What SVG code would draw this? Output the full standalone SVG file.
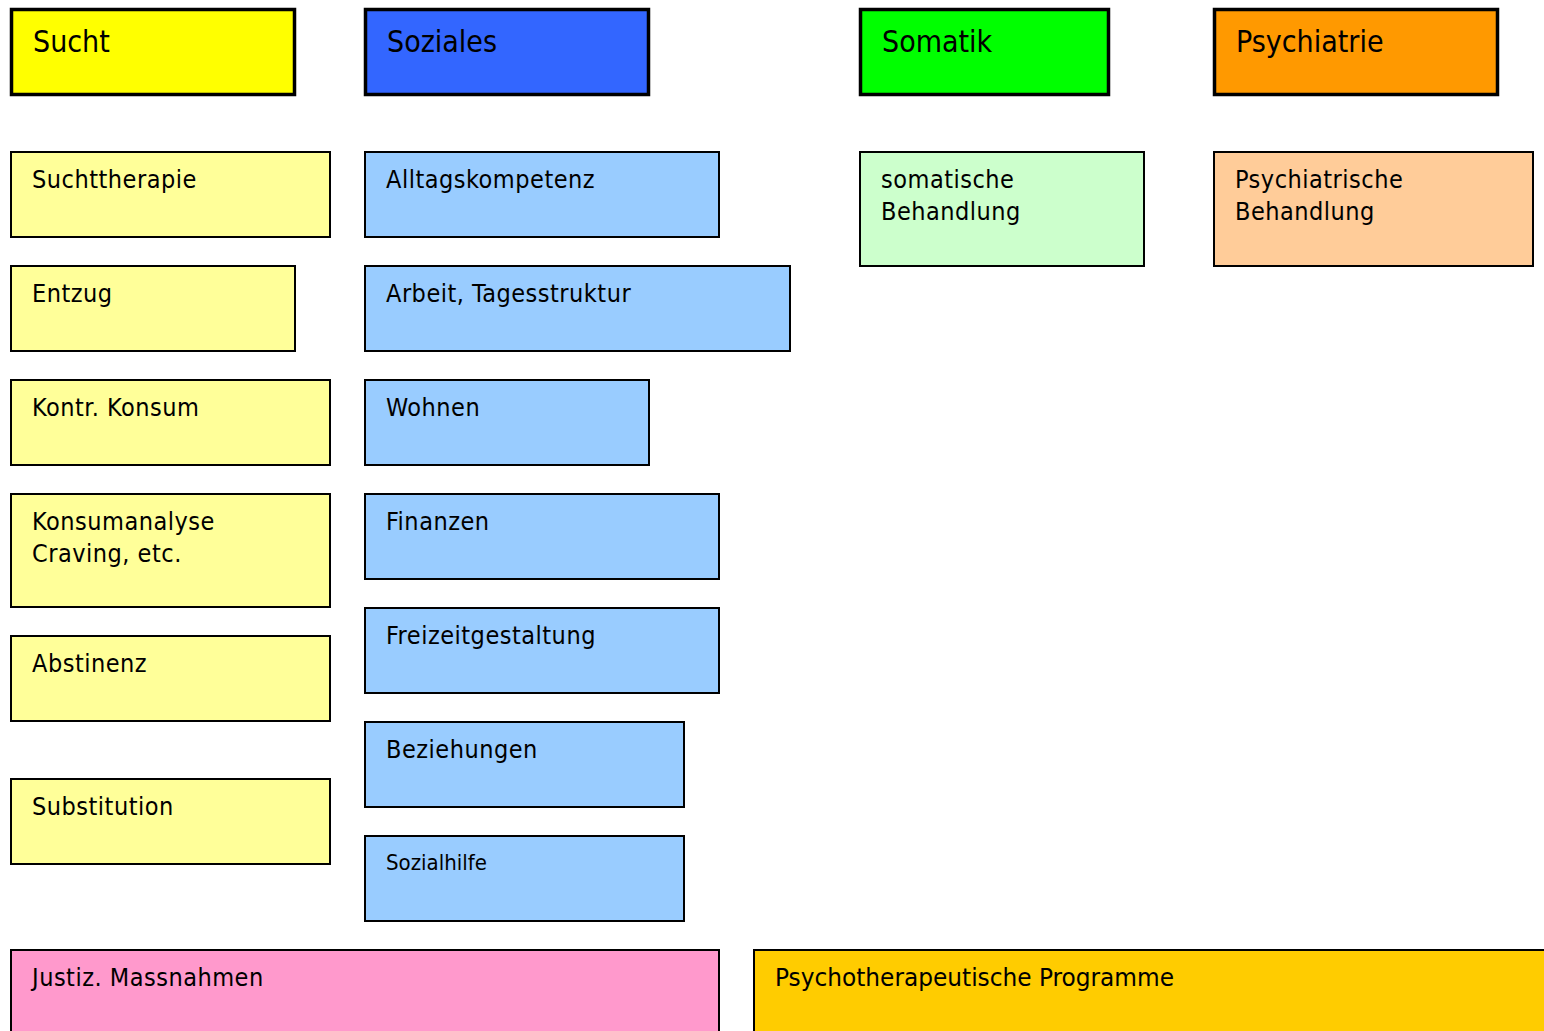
<svg xmlns="http://www.w3.org/2000/svg" width="1544" height="1031" viewBox="0 0 1544 1031">
<style>
text{font-family:"DejaVu Sans Condensed","DejaVu Sans",Tahoma,sans-serif;fill:#000}
.h rect{stroke:#000;stroke-width:3.5}
.h text{font-size:30px}
.b rect{stroke:#000;stroke-width:2}
.b text{font-size:25px;letter-spacing:0.5px}
.y rect{fill:#FFFF99}.bl rect{fill:#99CCFF}
</style>
<rect width="1544" height="1031" fill="#fff"/>
<g id="connectors"></g>
<g id="h-sucht" class="h"><rect x="11.5" y="9.5" width="283" height="85" fill="#FFFF00"/><text x="33" y="52">Sucht</text></g>
<g id="h-soziales" class="h"><rect x="365.5" y="9.5" width="283" height="85" fill="#3366FF"/><text x="387" y="52">Soziales</text></g>
<g id="h-somatik" class="h"><rect x="860.5" y="9.5" width="248" height="85" fill="#00FF00"/><text x="882" y="52">Somatik</text></g>
<g id="h-psychiatrie" class="h"><rect x="1214.5" y="9.5" width="283" height="85" fill="#FF9900"/><text x="1236" y="52">Psychiatrie</text></g>

<g id="suchttherapie" class="b y"><rect x="11" y="152" width="319" height="85"/><text x="32" y="188">Suchttherapie</text></g>
<g id="entzug" class="b y"><rect x="11" y="266" width="284" height="85"/><text x="32" y="302">Entzug</text></g>
<g id="kontr" class="b y"><rect x="11" y="380" width="319" height="85"/><text x="32" y="416">Kontr. Konsum</text></g>
<g id="konsumanalyse" class="b y"><rect x="11" y="494" width="319" height="113"/><text x="32" y="530">Konsumanalyse</text><text x="32" y="562">Craving, etc.</text></g>
<g id="abstinenz" class="b y"><rect x="11" y="636" width="319" height="85"/><text x="32" y="672">Abstinenz</text></g>
<g id="substitution" class="b y"><rect x="11" y="779" width="319" height="85"/><text x="32" y="815">Substitution</text></g>

<g id="alltag" class="b bl"><rect x="365" y="152" width="354" height="85"/><text x="386" y="188">Alltagskompetenz</text></g>
<g id="arbeit" class="b bl"><rect x="365" y="266" width="425" height="85"/><text x="386" y="302">Arbeit, Tagesstruktur</text></g>
<g id="wohnen" class="b bl"><rect x="365" y="380" width="284" height="85"/><text x="386" y="416">Wohnen</text></g>
<g id="finanzen" class="b bl"><rect x="365" y="494" width="354" height="85"/><text x="386" y="530">Finanzen</text></g>
<g id="freizeit" class="b bl"><rect x="365" y="608" width="354" height="85"/><text x="386" y="644">Freizeitgestaltung</text></g>
<g id="beziehungen" class="b bl"><rect x="365" y="722" width="319" height="85"/><text x="386" y="758">Beziehungen</text></g>
<g id="sozialhilfe" class="b bl"><rect x="365" y="836" width="319" height="85"/><text x="386" y="870" style="font-size:22px;letter-spacing:0">Sozialhilfe</text></g>

<g id="somatische" class="b"><rect x="860" y="152" width="284" height="114" fill="#CCFFCC"/><text x="881" y="188">somatische</text><text x="881" y="220">Behandlung</text></g>
<g id="psychiatrische" class="b"><rect x="1214" y="152" width="319" height="114" fill="#FFCC99"/><text x="1235" y="188">Psychiatrische</text><text x="1235" y="220">Behandlung</text></g>

<g id="justiz" class="b"><rect x="11" y="950" width="708" height="100" fill="#FF99CC"/><text x="32" y="986">Justiz. Massnahmen</text></g>
<g id="psychotherapeutische" class="b"><rect x="754" y="950" width="810" height="100" fill="#FFCC00"/><text x="775" y="986" textLength="399" lengthAdjust="spacingAndGlyphs" style="letter-spacing:0">Psychotherapeutische Programme</text></g>
</svg>
